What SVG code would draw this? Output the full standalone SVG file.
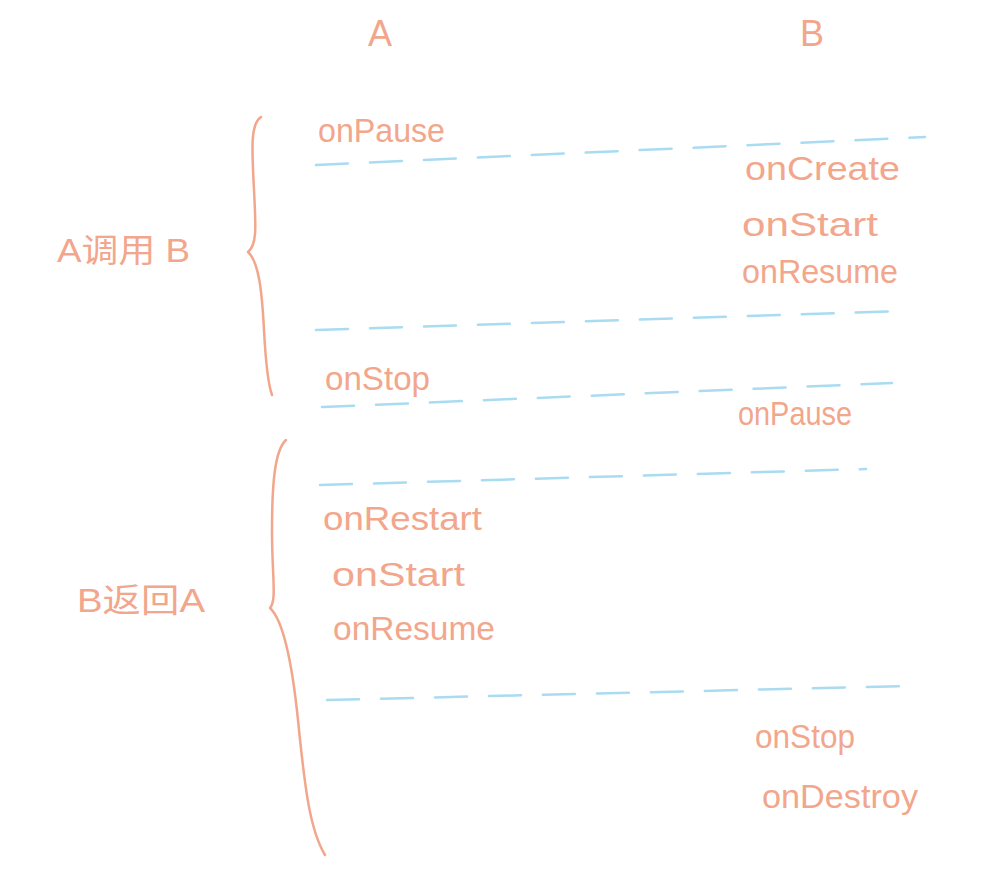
<svg xmlns="http://www.w3.org/2000/svg" width="997" height="873" viewBox="0 0 997 873">
<style>
.t{font-family:"Liberation Sans","Noto Sans CJK SC",sans-serif;fill:#F2A68B;font-size:33px;}
.h{font-size:36px;}
.br{fill:none;stroke:#F2A68B;stroke-width:2.5;stroke-linecap:round;stroke-linejoin:round;}
.d{fill:none;stroke:#A9DBF1;stroke-width:2.5;stroke-linecap:round;stroke-dasharray:32 22;}
</style>
<rect width="997" height="873" fill="#ffffff"/>
<g id="headers">
<text class="t h" x="380" y="46" text-anchor="middle">A</text>
<text class="t h" x="812" y="46" text-anchor="middle">B</text>
</g>
<g id="group-a-calls-b">
<path class="br" d="M 261 117 C 250 124, 252 150, 254 190 C 256 228, 257 245, 248 252 C 259 262, 262 292, 264 330 C 266 368, 268 384, 272 395"/>
<text class="t" x="57" y="262" textLength="133" lengthAdjust="spacingAndGlyphs">A调用 B</text>
</g>
<g id="group-b-returns-a">
<path class="br" d="M 286 440 C 275 450, 272 482, 272 530 C 272 578, 277 600, 270 608 C 283 620, 292 662, 298 720 C 305 790, 310 830, 325 855"/>
<text class="t" x="77" y="612" textLength="128" lengthAdjust="spacingAndGlyphs">B返回A</text>
</g>
<g id="connectors">
<path class="d" d="M 316 165 L 925 137"/>
<path class="d" d="M 316 330 L 905 311"/>
<path class="d" d="M 322 407 L 892 383"/>
<path class="d" d="M 320 485 L 866 469"/>
<path class="d" d="M 327 700 L 907 686"/>
</g>
<g id="a-pause"><text class="t" x="318" y="142" textLength="127" lengthAdjust="spacingAndGlyphs">onPause</text></g>
<g id="b-create"><text class="t" x="745" y="180" textLength="155" lengthAdjust="spacingAndGlyphs">onCreate</text></g>
<g id="b-start"><text class="t" x="742" y="236" textLength="136" lengthAdjust="spacingAndGlyphs">onStart</text></g>
<g id="b-resume"><text class="t" x="742" y="283" textLength="156" lengthAdjust="spacingAndGlyphs">onResume</text></g>
<g id="a-stop"><text class="t" x="325" y="390" textLength="105" lengthAdjust="spacingAndGlyphs">onStop</text></g>
<g id="b-pause"><text class="t" x="738" y="425" textLength="114" lengthAdjust="spacingAndGlyphs">onPause</text></g>
<g id="a-restart"><text class="t" x="323" y="530" textLength="159" lengthAdjust="spacingAndGlyphs">onRestart</text></g>
<g id="a-start"><text class="t" x="332" y="586" textLength="133" lengthAdjust="spacingAndGlyphs">onStart</text></g>
<g id="a-resume"><text class="t" x="333" y="640" textLength="162" lengthAdjust="spacingAndGlyphs">onResume</text></g>
<g id="b-stop"><text class="t" x="755" y="748" textLength="100" lengthAdjust="spacingAndGlyphs">onStop</text></g>
<g id="b-destroy"><text class="t" x="762" y="808" textLength="156" lengthAdjust="spacingAndGlyphs">onDestroy</text></g>
</svg>
